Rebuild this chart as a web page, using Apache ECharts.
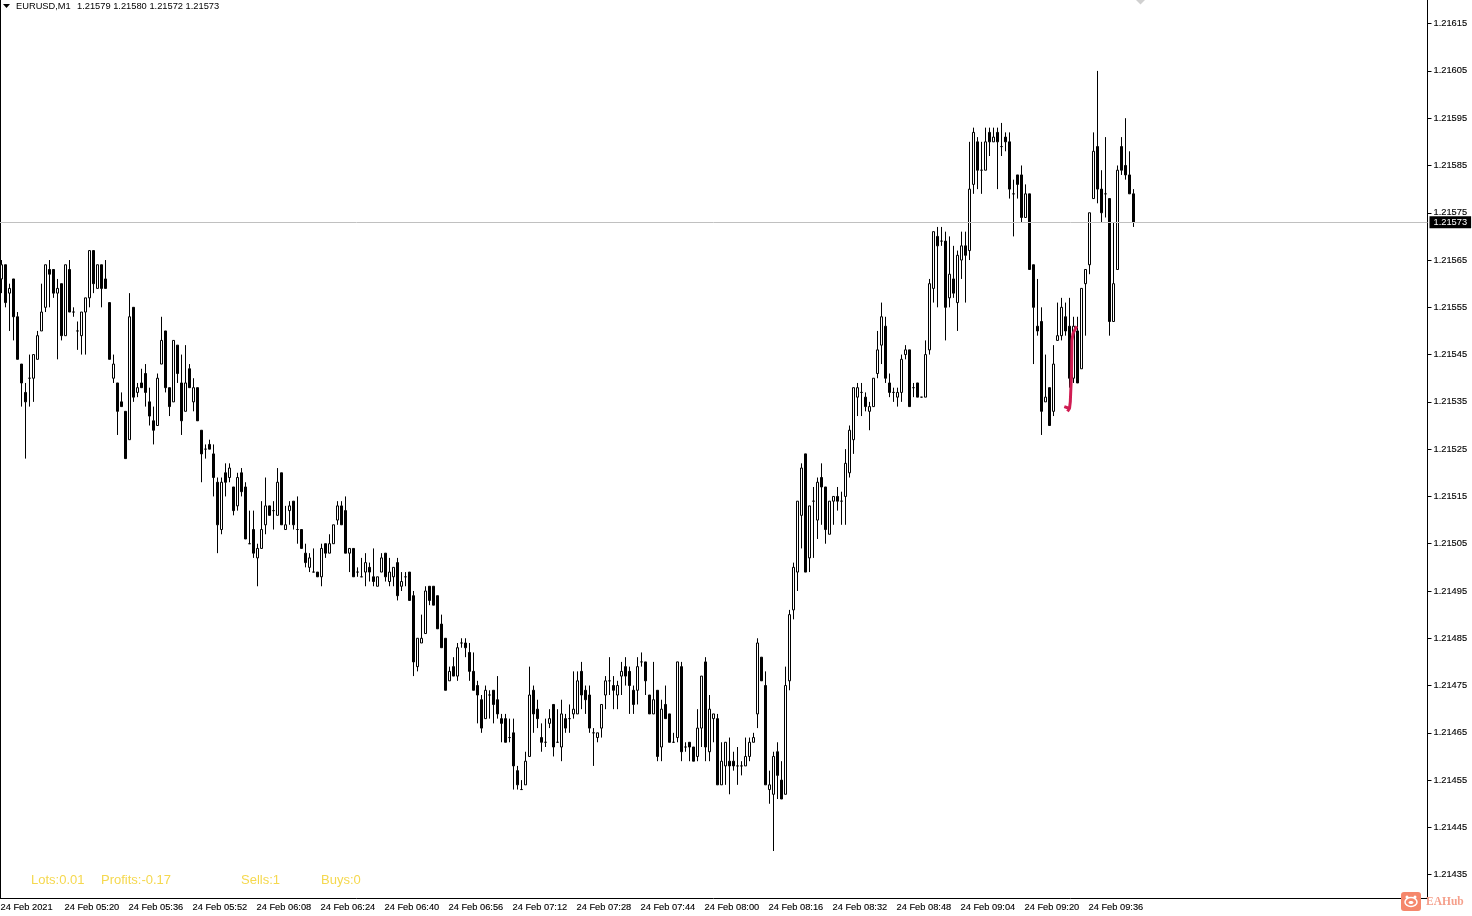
<!DOCTYPE html>
<html>
<head>
<meta charset="utf-8">
<title>EURUSD,M1</title>
<style>
  html, body { margin: 0; padding: 0; background: #fff; }
  #chart { width: 1472px; height: 916px; }
</style>
<script src="https://cdn.jsdelivr.net/npm/echarts@6/dist/echarts.min.js"></script>
</head>
<body>
<div id="chart"></div>
<script>
// prices are stored as points above 1.21000, so 573 means 1.21573
var opens = [
  561,564,558,561,553,543,537,540,540,544, 550,555,563,563,558,560,549,563,554,550,
  549,554,557,567,559,564,561,556,540,539, 535,533,527,555,537,539,541,535,531,530,
  543,550,538,535,547,539,533,542,535,538, 529,525,526,524,518,508,520,519,517,513,
  520,517,505,508,502,504,509,513,512,511, 520,508,512,514,508,508,503,500,499,499,
  498,505,503,505,510,513,512,503,504,499, 498,499,500,498,496,499,503,497,498,501,
  496,498,499,494,479,484,486,496,496,494, 488,485,476,479,477,484,484,482,478,475,
  472,468,473,474,472,468,468,464,465,457, 453,454,460,474,470,464,463,467,471,463,
  462,468,468,469,469,478,474,473,465,464, 466,473,476,475,473,477,479,478,474,474,
  480,480,473,469,474,462,471,469,463,464, 479,462,463,462,460,466,480,461,468,468,
  454,458,459,459,458,458,458,460,463,469, 481,475,453,452,461,455,452,476,491,499,
  511,524,502,514,510,519,517,507,514,515, 514,515,520,527,536,537,536,533,534,541,
  547,551,539,537,536,537,545,546,538,539, 536,536,546,559,570,569,569,557,561,556,
  565,568,567,581,590,584,584,592,590,592, 589,591,590,579,583,583,574,579,564,551,
  552,535,538,533,548,549,553,551,540,550, 542,560,564,578,589,580,579,578,552,563,
  589,585,583,579
];
var highs = [
  565,564,560,561,554,543,539,545,545,550, 560,564,565,563,561,560,564,565,555,552,
  554,557,567,567,564,564,565,556,545,539, 537,533,558,555,539,542,543,538,534,541,
  553,550,538,548,547,545,547,543,540,538, 529,526,527,526,519,519,522,522,517,520,
  521,518,512,512,505,514,519,513,514,521, 520,513,514,514,515,508,505,503,504,499,
  505,505,507,509,514,514,515,504,504,500, 502,503,501,504,498,503,503,502,500,502,
  499,499,499,495,485,490,496,496,496,494, 490,485,479,481,484,485,485,484,482,476,
  473,475,474,474,477,469,469,468,468,458, 455,461,479,475,472,467,468,470,471,470,
  472,469,471,478,478,480,475,475,466,465, 471,477,481,477,476,480,481,479,475,481,
  482,480,473,480,474,472,475,469,465,480, 480,463,463,462,470,477,481,473,469,469,
  463,463,464,461,462,459,464,464,465,485, 481,478,457,461,463,459,479,491,501,514,
  522,524,513,517,519,522,517,514,515,517, 516,525,530,538,539,539,537,535,540,550,
  556,553,541,538,538,545,547,546,539,539, 536,548,561,571,572,572,571,570,568,567,
  571,571,590,593,591,590,593,593,593,593, 594,592,592,582,583,585,581,579,564,561,
  555,545,538,547,556,557,556,557,553,553, 559,563,575,592,605,584,591,578,573,585,
  591,595,588,580
];
var lows = [
  558,555,550,548,544,534,523,534,535,544, 550,554,555,557,544,548,549,554,553,546,
  545,545,555,558,559,555,559,544,539,528, 534,523,527,535,536,538,534,530,526,530,
  543,537,532,535,539,528,533,538,533,531, 518,523,525,515,503,507,515,518,511,512,
  515,506,505,502,496,504,507,511,508,511, 509,508,509,508,505,504,500,499,499,498,
  496,502,503,505,509,509,503,499,498,498, 498,496,497,496,496,499,497,496,496,493,
  495,496,493,477,478,484,486,492,492,487, 483,474,476,477,476,483,481,476,474,467,
  465,468,468,467,468,463,463,463,453,453, 453,454,460,465,466,461,462,466,460,463,
  459,465,465,468,469,470,469,465,458,463, 464,470,473,470,470,473,475,469,469,471,
  479,473,469,469,459,459,468,463,463,463, 459,461,459,459,459,462,459,459,463,454,
  454,454,452,457,454,456,458,459,463,466, 476,454,450,440,451,451,452,474,489,495,
  504,499,499,502,506,509,505,507,509,512, 509,509,519,524,532,532,533,529,534,540,
  543,539,536,535,534,535,544,534,536,536, 536,536,545,556,555,568,548,555,557,550,
  561,556,565,579,580,579,584,587,590,580, 587,588,578,570,578,573,574,563,543,549,
  528,535,530,532,548,548,549,538,539,539, 542,549,562,578,577,573,574,549,552,563,
  583,582,579,572
];
var closes = [
  564,556,559,553,544,539,535,540,545,549, 554,564,562,558,559,549,564,554,554,550,
  554,557,567,560,564,559,559,544,543,533, 534,523,553,536,538,538,537,532,529,540,
  548,538,534,548,541,531,539,538,538,531, 524,525,525,519,509,518,518,521,512,519,
  516,506,505,503,504,508,513,511,512,518, 509,509,513,509,508,504,501,502,499,498,
  504,503,505,509,513,509,503,504,498,499, 498,501,499,497,498,502,498,499,500,494,
  497,498,493,480,485,485,495,493,492,487, 483,474,478,477,483,484,483,478,474,473,
  466,474,473,471,469,467,463,464,458,454, 453,459,473,469,468,463,463,468,462,463,
  469,466,468,470,476,473,472,466,465,465, 471,476,476,474,475,478,477,475,471,479,
  480,476,469,472,460,470,468,463,463,480, 461,462,462,459,466,477,462,470,469,454,
  459,463,458,458,458,458,460,463,464,484, 476,454,454,460,456,451,475,490,500,514,
  521,499,513,514,518,517,508,514,515,514, 514,522,529,538,538,537,534,534,540,546,
  553,540,537,537,537,544,546,534,538,536, 536,545,560,571,568,569,555,562,558,566,
  568,566,580,592,584,584,590,590,591,590, 589,590,580,579,581,574,579,563,555,550,
  533,536,530,543,549,555,550,540,551,539, 559,563,575,588,580,575,579,552,560,584,
  584,583,579,573
];
var timeLabels = [
  '24 Feb 2021','24 Feb 05:20','24 Feb 05:36','24 Feb 05:52','24 Feb 06:08','24 Feb 06:24',
  '24 Feb 06:40','24 Feb 06:56','24 Feb 07:12','24 Feb 07:28','24 Feb 07:44','24 Feb 08:00',
  '24 Feb 08:16','24 Feb 08:32','24 Feb 08:48','24 Feb 09:04','24 Feb 09:20','24 Feb 09:36'
];
var priceTicks = [435,445,455,465,475,485,495,505,515,525,535,545,555,565,575,585,595,605,615];
var lastPrice = 573;
// trade arrow, in bar number / points
var tradeLine = [[268.8,551],[267.9,549.5],[267.6,548],[267.5,541],[267.2,535],[267,533.6],[265.7,534],[267,533.6],[266.5,533]];
var topMarker = [[284.75,620]];

var SLOTS = 357; // 4px per bar, the chart is empty after the last bar
var FONT = '"Liberation Sans", Arial, sans-serif';
var GOLD = '#f5d84e';

function priceText(v) {
  return (1.21 + v / 100000).toFixed(5);
}

var categories = [];
for (var i = 0; i < SLOTS; i++) {
  categories.push(i % 16 === 0 && timeLabels[i / 16] ? timeLabels[i / 16] : '');
}
var candles = opens.map(function (o, i) {
  return [o, closes[i], lows[i], highs[i]];
});
function isTimeTick(idx) {
  return idx % 16 === 0 && idx / 16 < timeLabels.length;
}

function infoText(x, text) {
  return { type: 'text', x: x, y: 880.5, style: { text: text, fill: GOLD, font: '13px ' + FONT, textVerticalAlign: 'middle' } };
}

var myChart = echarts.init(document.getElementById('chart'));
myChart.setOption({
  animation: false,
  backgroundColor: '#fff',
  grid: { left: -0.5, top: 0, width: 1428, height: 898.3, outerBoundsMode: 'none' },
  xAxis: [{
    type: 'category',
    data: categories,
    axisLine: { onZero: false, lineStyle: { color: '#000', width: 1 } },
    axisTick: { alignWithLabel: true, length: 3, interval: isTimeTick, lineStyle: { color: '#000' } },
    axisLabel: {
      interval: isTimeTick, align: 'left', margin: 5, padding: [0, 0, 0, -1],
      color: '#000', fontFamily: FONT, fontSize: 9.3, textBorderColor: '#000', textBorderWidth: 0.12
    },
    splitLine: { show: false }
  }, {
    type: 'value', min: -0.5, max: 356.5, show: false, splitLine: { show: false }
  }],
  yAxis: {
    type: 'value',
    position: 'right',
    min: 430,
    max: 620,
    scale: true,
    axisLine: { show: true, onZero: false, lineStyle: { color: '#000', width: 1 } },
    axisTick: { show: true, length: 4, customValues: priceTicks, lineStyle: { color: '#000' } },
    axisLabel: {
      customValues: priceTicks, margin: 6, color: '#000', fontFamily: FONT, fontSize: 9.3,
      textBorderColor: '#000', textBorderWidth: 0.12, formatter: priceText
    },
    splitLine: { show: false }
  },
  series: [{
    type: 'candlestick',
    data: candles,
    barWidth: 2,
    itemStyle: { color: '#fff', color0: '#000', borderColor: '#000', borderColor0: '#000', borderWidth: 1 },
    markLine: {
      silent: true,
      symbol: 'none',
      animation: false,
      lineStyle: { color: '#c0c0c0', width: 1, type: 'solid' },
      label: {
        position: 'end',
        distance: 2,
        formatter: priceText(lastPrice),
        color: '#fff',
        backgroundColor: '#000',
        fontFamily: FONT,
        fontSize: 9.3,
        padding: [2, 4, 1, 4]
      },
      data: [{ yAxis: lastPrice }]
    }
  }, {
    type: 'line',
    xAxisIndex: 1,
    data: tradeLine,
    showSymbol: false,
    smooth: false,
    z: 5,
    lineStyle: { color: '#d01c52', width: 3 }
  }, {
    type: 'scatter',
    xAxisIndex: 1,
    data: topMarker,
    symbol: 'diamond',
    symbolSize: 9,
    itemStyle: { color: '#c4c4c4' }
  }],
  graphic: [
    { type: 'line', shape: { x1: 0.5, y1: 0, x2: 0.5, y2: 898 }, style: { stroke: '#000', lineWidth: 1 } },
    { type: 'polygon', shape: { points: [[3, 4], [10, 4], [6.5, 8]] }, style: { fill: '#000' } },
    { type: 'text', x: 16, y: 6, style: { text: 'EURUSD,M1', fill: '#000', font: '9.3px ' + FONT, textVerticalAlign: 'middle' } },
    { type: 'text', x: 77, y: 6, style: { text: '1.21579 1.21580 1.21572 1.21573', fill: '#000', font: '9.3px ' + FONT, textVerticalAlign: 'middle' } },
    infoText(31, 'Lots:0.01'),
    infoText(101, 'Profits:-0.17'),
    infoText(241, 'Sells:1'),
    infoText(321, 'Buys:0'),
    // EAHub badge
    { type: 'rect', z: 10, shape: { x: 1401, y: 892, width: 20, height: 19, r: 3 }, style: { fill: '#f5876c' } },
    { type: 'circle', z: 11, shape: { cx: 1407, cy: 897, r: 1.5 }, style: { fill: '#fff' } },
    { type: 'circle', z: 11, shape: { cx: 1415, cy: 897, r: 1.5 }, style: { fill: '#fff' } },
    { type: 'ellipse', z: 11, shape: { cx: 1411, cy: 902, rx: 6, ry: 4.5 }, style: { fill: 'none', stroke: '#fff', lineWidth: 1.5 } },
    { type: 'ellipse', z: 11, shape: { cx: 1411, cy: 902.5, rx: 2.5, ry: 1.5 }, style: { fill: '#fff' } },
    { type: 'text', z: 10, x: 1426, y: 902, style: { text: 'EAHub', fill: '#f5a08c', font: 'bold 11.5px "Liberation Serif", serif', textVerticalAlign: 'middle' } }
  ]
});
</script>
</body>
</html>
